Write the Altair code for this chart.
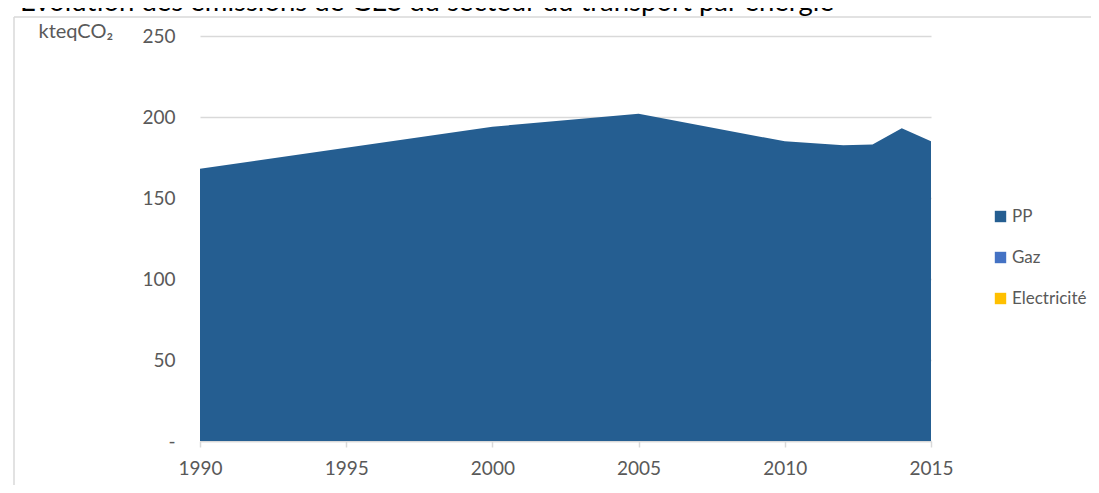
import altair as alt
import pandas as pd

title_text = "Evolution des émissions de GES du secteur du transport par énergie"
years = [1990, 2000, 2005, 2010, 2012, 2013, 2014, 2015]
pp = [168, 194, 202, 185, 182.5, 183, 193, 185]
gaz = [0, 0, 0, 0, 0, 0, 0, 0]
elec = [0, 0, 0, 0, 0, 0, 0, 0]
series = ["PP", "Gaz", "Electricité"]
colors = ["#255E91", "#4472C4", "#FFC000"]
x_ticks = [1990, 1995, 2000, 2005, 2010, 2015]
y_ticks = [0, 50, 100, 150, 200, 250]

rows = []
for i, y in enumerate(years):
    rows.append({"year": y, "serie": "PP", "value": pp[i], "ord": 0})
    rows.append({"year": y, "serie": "Gaz", "value": gaz[i], "ord": 1})
    rows.append({"year": y, "serie": "Electricité", "value": elec[i], "ord": 2})
df = pd.DataFrame(rows)

FONT = "Lato"
GREY = "#595959"

area = alt.Chart(df).mark_area(opacity=1).encode(
    x=alt.X("year:Q",
            scale=alt.Scale(domain=[1990, 2015], nice=False, zero=False),
            axis=alt.Axis(values=x_ticks, format="d", title=None, grid=False,
                          labelFlush=False,
                          domainColor="#d9d9d9", domainWidth=1.5,
                          tickColor="#d9d9d9", tickSize=6, tickWidth=1.5,
                          labelPadding=12, labelFontSize=19, labelColor=GREY,
                          labelFont=FONT)),
    y=alt.Y("value:Q", stack="zero",
            scale=alt.Scale(domain=[0, 250], nice=False),
            axis=alt.Axis(values=y_ticks, title="kteqCO₂", titleAngle=0,
                          titleAlign="left", titleBaseline="alphabetic",
                          titleX=-162, titleY=1, titleFont=FONT,
                          titleFontSize=20, titleFontWeight="normal",
                          titleColor=GREY,
                          labelExpr="datum.value == 0 ? '-' : datum.label",
                          domain=False, ticks=False, labelPadding=25,
                          labelFontSize=19, labelColor=GREY, labelFont=FONT,
                          gridColor="#d9d9d9", gridWidth=1.5)),
    color=alt.Color("serie:N",
                    scale=alt.Scale(domain=series, range=colors),
                    legend=alt.Legend(title=None, orient="none",
                                      legendX=792, legendY=172,
                                      symbolType="square", symbolSize=130,
                                      symbolStrokeWidth=0,
                                      labelFont=FONT, labelFontSize=17,
                                      labelColor=GREY, labelOffset=3,
                                      rowPadding=23, padding=0)),
    order=alt.Order("ord:Q"),
)

one = pd.DataFrame({"t": [title_text]})
title = alt.Chart(one).mark_text(align="left", baseline="alphabetic",
                                 fontSize=27.5, font=FONT, color="black").encode(
    x=alt.value(-180), y=alt.value(-25), text="t:N")

border_top = alt.Chart(one).mark_rule(color="#d9d9d9", strokeWidth=1.5).encode(
    x=alt.value(-186), x2=alt.value(1000), y=alt.value(-19))
border_left = alt.Chart(one).mark_rule(color="#d9d9d9", strokeWidth=1.5).encode(
    x=alt.value(-186), y=alt.value(-19), y2=alt.value(500))

chart = alt.layer(border_top, border_left, area, title).properties(
    width=731, height=405,
    autosize=alt.AutoSizeParams(type="none"),
    padding={"left": 192, "top": 28, "right": 160, "bottom": 44},
).configure_view(stroke=None)

chart.save("out.html", embed_options={"renderer": "svg", "actions": False})
